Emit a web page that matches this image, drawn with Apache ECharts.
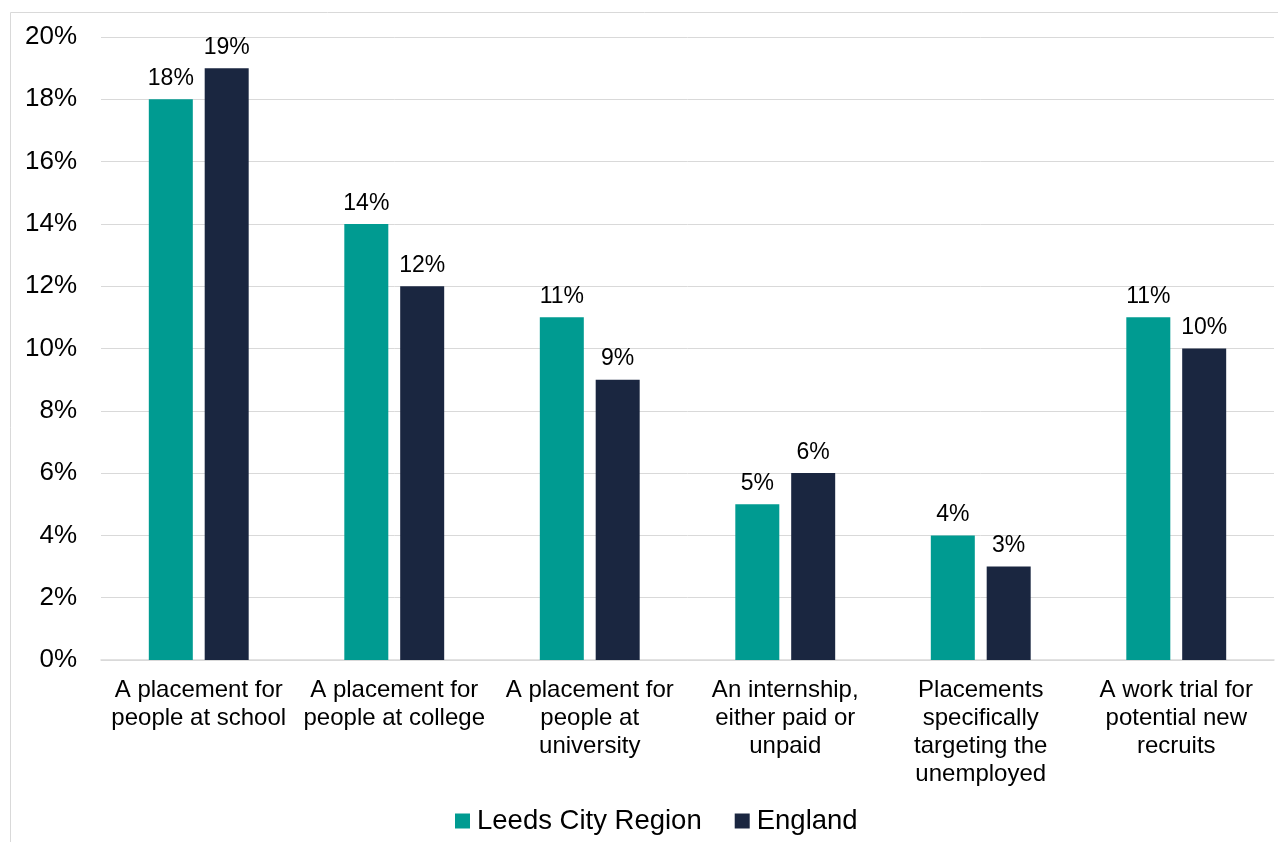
<!DOCTYPE html>
<html><head><meta charset="utf-8">
<script src="https://cdn.jsdelivr.net/npm/echarts@6/dist/echarts.min.js"></script>
<style>html,body{margin:0;padding:0;background:#fff}#c{width:1278px;height:842px}</style>
</head><body><div id="c"></div>
<script>
const categories = ["A placement for\npeople at school","A placement for\npeople at college","A placement for\npeople at\nuniversity","An internship,\neither paid or\nunpaid","Placements\nspecifically\ntargeting the\nunemployed","A work trial for\npotential new\nrecruits"];
const leeds = [18,14,11,5,4,11];
const england = [19,12,9,6,3,10];
const seriesNames = ["Leeds City Region","England"];
const FONT = "Liberation Sans, Arial, sans-serif";
const chart = echarts.init(document.getElementById('c'));
const lbl = {show:true,position:'top',formatter:'{c}%',color:'#000',fontSize:23,fontFamily:FONT,distance:9};
chart.setOption({
  animation:false,
  graphic:[{type:'rect',shape:{x:10.5,y:12.5,width:1300,height:900},style:{fill:'none',stroke:'#d9d9d9',lineWidth:1},z:-1}],
  grid:{left:101,right:4,top:37,bottom:182,containLabel:false},
  legend:{top:802,left:450,itemWidth:15,itemHeight:15,itemGap:33,icon:'rect',
    textStyle:{fontSize:27.5,fontFamily:FONT,color:'#000',padding:[0,0,0,2]},data:seriesNames},
  xAxis:{type:'category',data:categories,axisLine:{lineStyle:{color:'#d9d9d9',width:1.5}},axisTick:{show:false},
    axisLabel:{interval:0,fontSize:24,fontFamily:FONT,color:'#000',lineHeight:28,margin:16}},
  yAxis:{type:'value',min:0,max:20,interval:2,axisLabel:{formatter:'{value}%',fontSize:26,fontFamily:FONT,color:'#000',margin:24},
    splitLine:{lineStyle:{color:'#d9d9d9',width:1}},axisLine:{show:false},axisTick:{show:false}},
  series:[
    {name:seriesNames[0],type:'bar',data:leeds,barWidth:44,barGap:'27%',itemStyle:{color:'#009B91'},label:lbl},
    {name:seriesNames[1],type:'bar',data:england,barWidth:44,itemStyle:{color:'#1A2640'},label:lbl}
  ]
});
</script></body></html>
